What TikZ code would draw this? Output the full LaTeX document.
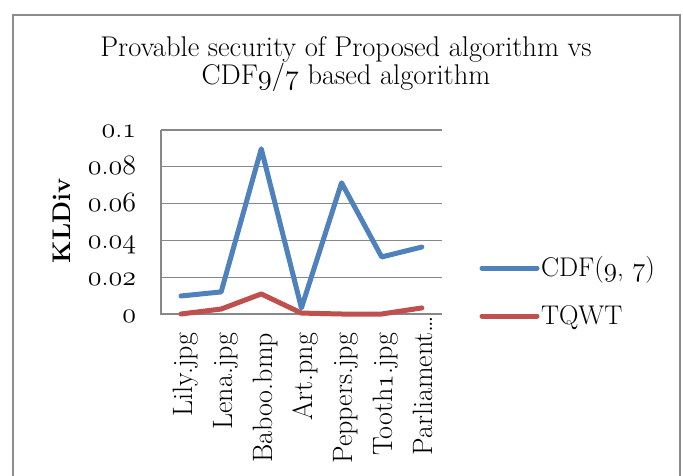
\documentclass[tikz,border=0pt]{standalone}
\usepackage{xcolor}
\definecolor{serblue}{HTML}{4F81BD}
\definecolor{serred}{HTML}{C0504D}
\definecolor{gridgray}{HTML}{878787}
\definecolor{framegray}{HTML}{8C8C8C}
% old-style figures taken from the math italic font, at any size
\DeclareFontShape{OML}{cmm}{m}{it}{<->cmmi12}{}
\newcommand\osf[1]{{\usefont{OML}{cmm}{m}{it}#1}}
\begin{document}
\begin{tikzpicture}[x=1pt,y=-1pt,
  every node/.style={inner sep=0pt, outer sep=0pt},
  lbl/.style={font=\fontsize{28}{32}\selectfont},
  titletext/.style={font=\fontsize{28.5}{30}\selectfont, anchor=base},
  gridline/.style={draw=gridgray, line width=1.3pt},
  series/.style={line width=5pt, line cap=round, line join=round},
]
\useasboundingbox (0,0) rectangle (683,476);
\fill[white] (0,0) rectangle (683,476);
\begin{scope}
  \clip (0,0) rectangle (683,476);
  \draw[framegray, line width=2pt] (13,15) rectangle (680,500);
\end{scope}

% title
\node[titletext] (title1) at (346,57) {Provable security of Proposed algorithm vs};
\node[titletext] (title2) at (346,85) {CDF\osf{9}/\osf{7} based algorithm};

% grid and axes
\foreach \k in {1,...,5}
  \draw[gridline] (161,{314-36.8*\k}) -- (442,{314-36.8*\k});
\draw[gridline] (161,130) -- (161,314) -- (442,314);

% value axis labels
\foreach \k/\t in {0/{\osf{0}}, 1/{\osf{0}.\osf{02}}, 2/{\osf{0}.\osf{04}},
                   3/{\osf{0}.\osf{06}}, 4/{\osf{0}.\osf{08}}, 5/{\osf{0}.\osf{1}}}
  \node[lbl, anchor=base east] (ytick\k) at (136,{322-36.8*\k}) {\t};
\node[font=\fontsize{25.5}{28}\selectfont\bfseries, rotate=90] (ytitle) at (62,221) {KLDiv};

% category labels
\foreach \i/\name in {0/Lily.jpg, 1/Lena.jpg, 2/Baboo.bmp, 3/Art.png,
                      4/Peppers.jpg, 5/{Tooth\osf{1}.jpg}}
  \node[lbl, rotate=90, anchor=base east] (cat\i) at ({192+40.14*\i},333) {\name};
\node[lbl, rotate=90, anchor=base east] (cat6) at ({192+40.14*6},316) {Parliament\dots};

% data points
\foreach \i/\v in {1/0.0098, 2/0.0120, 3/0.0898, 4/0.0033, 5/0.0713, 6/0.0310, 7/0.0364}
  \coordinate (cdf\i) at ({181+40.14*(\i-1)},{314-1840*\v});
\foreach \i/\v in {1/0.0000, 2/0.0027, 3/0.0109, 4/0.0005, 5/0.0000, 6/0.0000, 7/0.0033}
  \coordinate (tq\i) at ({181+40.14*(\i-1)},{314-1840*\v});

\draw[series, serred] (tq1) -- (tq2) -- (tq3) -- (tq4) -- (tq5) -- (tq6) -- (tq7);
\draw[series, serblue] (cdf1) -- (cdf2) -- (cdf3) -- (cdf4) -- (cdf5) -- (cdf6) -- (cdf7);

% legend
\coordinate (legA1) at (482,268);
\coordinate (legA2) at (537,268);
\coordinate (legB1) at (482,316);
\coordinate (legB2) at (537,316);
\draw[series, serblue] (legA1) -- (legA2);
\draw[series, serred] (legB1) -- (legB2);
\node[font=\fontsize{27}{30}\selectfont, anchor=base west] (legAtext) at (541,276) {CDF(\osf{9}, \osf{7})};
\node[font=\fontsize{27}{30}\selectfont, anchor=base west] (legBtext) at (541,324) {TQWT};
\end{tikzpicture}
\end{document}
